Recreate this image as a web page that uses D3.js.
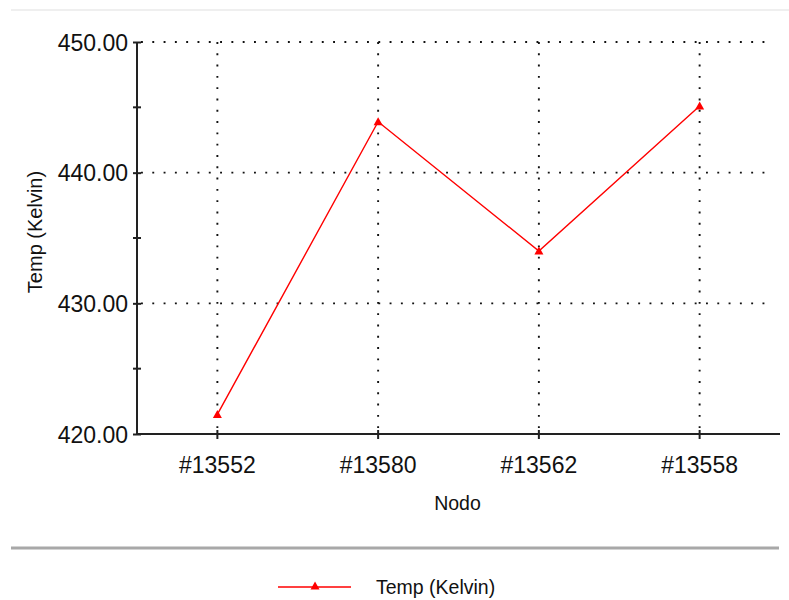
<!DOCTYPE html>
<html>
<head>
<meta charset="utf-8">
<script src="https://cdn.jsdelivr.net/npm/d3@7"></script>
<style>
  html, body { margin: 0; padding: 0; background: #fff; }
  svg { display: block; font-family: "Liberation Sans", Arial, sans-serif; }
</style>
</head>
<body>
<svg id="chart" width="789" height="600"></svg>
<script>
// Temperature per node
const nodes = ["#13552", "#13580", "#13562", "#13558"];
const temps = [421.5, 443.9, 434.0, 445.1];
const yTicks = [420, 430, 440, 450];
const yMinorTicks = [425, 435, 445];
const seriesName = "Temp (Kelvin)";
const xTitle = "Nodo";
const yTitle = "Temp (Kelvin)";

const svg = d3.select("#chart");
const W = 789, H = 600;
const plot = { left: 137, right: 780, top: 42, bottom: 434 };

const x = d3.scaleBand().domain(nodes).range([plot.left, plot.right]);
const xc = d => x(d) + x.bandwidth() / 2;
const y = d3.scaleLinear().domain([420, 450]).range([plot.bottom, plot.top]);

// thin frame line at the top
svg.append("line")
  .attr("x1", 11).attr("x2", W).attr("y1", 10).attr("y2", 10)
  .attr("stroke", "#efefef").attr("stroke-width", 2);

// dotted grid
const grid = svg.append("g")
  .attr("stroke", "#111").attr("stroke-width", 1.9)
  .attr("stroke-dasharray", "1.9,9.4");
grid.selectAll("line.h").data(yTicks.filter(v => v > 420)).join("line")
  .attr("class", "h")
  .attr("x1", plot.left + 4).attr("x2", 771)
  .attr("y1", d => y(d)).attr("y2", d => y(d));
grid.selectAll("line.v").data(nodes).join("line")
  .attr("class", "v")
  .attr("x1", d => xc(d)).attr("x2", d => xc(d))
  .attr("y1", plot.top).attr("y2", plot.bottom - 4);

// y axis
const yAxis = svg.append("g")
  .attr("transform", `translate(${plot.left},0)`)
  .call(d3.axisLeft(y).tickValues(yTicks).tickFormat(d3.format(".2f"))
    .tickSize(4).tickPadding(5));
yAxis.select(".domain").attr("stroke", "#222").attr("stroke-width", 2)
  .attr("d", `M0,${plot.top}V${plot.bottom}`);
yAxis.selectAll(".tick line").attr("stroke", "#222").attr("stroke-width", 2)
  .attr("x1", 4).attr("x2", -4);
yAxis.selectAll(".tick text").attr("fill", "#111")
  .attr("font-size", 23).attr("font-family", "Liberation Sans, Arial, sans-serif")
  .attr("dy", "0.36em");
svg.append("g").selectAll("line").data(yMinorTicks).join("line")
  .attr("x1", plot.left - 4).attr("x2", plot.left + 4)
  .attr("y1", d => y(d)).attr("y2", d => y(d))
  .attr("stroke", "#222").attr("stroke-width", 2);

// x axis
const xAxis = svg.append("g")
  .attr("transform", `translate(0,${plot.bottom})`)
  .call(d3.axisBottom(x).tickSize(5).tickPadding(18));
xAxis.select(".domain").attr("stroke", "#222").attr("stroke-width", 2)
  .attr("d", `M${plot.left},0H${plot.right}`);
xAxis.selectAll(".tick line").attr("stroke", "#222").attr("stroke-width", 2)
  .attr("y1", -4).attr("y2", 5);
xAxis.selectAll(".tick text").attr("fill", "#111")
  .attr("font-size", 23).attr("font-family", "Liberation Sans, Arial, sans-serif");

// axis titles
svg.append("text")
  .attr("x", (plot.left + plot.right) / 2 - 1).attr("y", 510)
  .attr("text-anchor", "middle").attr("font-size", 19.5).attr("fill", "#111")
  .text(xTitle);
svg.append("text")
  .attr("transform", "translate(42,232) rotate(-90)")
  .attr("text-anchor", "middle").attr("font-size", 20).attr("fill", "#111")
  .text(yTitle);

// series line and markers
const data = nodes.map((n, i) => ({ n, v: temps[i] }));
svg.append("path").datum(data)
  .attr("fill", "none").attr("stroke", "#ff0000").attr("stroke-width", 1.4)
  .attr("d", d3.line().x(d => xc(d.n)).y(d => y(d.v)));
const tri = "M0,-4.5L4.5,3.5L-4.5,3.5Z";
svg.append("g").selectAll("path").data(data).join("path")
  .attr("transform", d => `translate(${xc(d.n)},${y(d.v)})`)
  .attr("d", tri).attr("fill", "#ff0000");

// separator above legend
svg.append("line")
  .attr("x1", 11).attr("x2", 779).attr("y1", 548).attr("y2", 548)
  .attr("stroke", "#a8a8a8").attr("stroke-width", 3);

// legend
const lg = svg.append("g");
lg.append("line").attr("x1", 278).attr("x2", 351).attr("y1", 587).attr("y2", 587)
  .attr("stroke", "#ff0000").attr("stroke-width", 1.6);
lg.append("path").attr("transform", "translate(315,586)").attr("d", tri).attr("fill", "#ff0000");
lg.append("text").attr("x", 376).attr("y", 594).attr("font-size", 19.5).attr("fill", "#111")
  .text(seriesName);
</script>
</body>
</html>
